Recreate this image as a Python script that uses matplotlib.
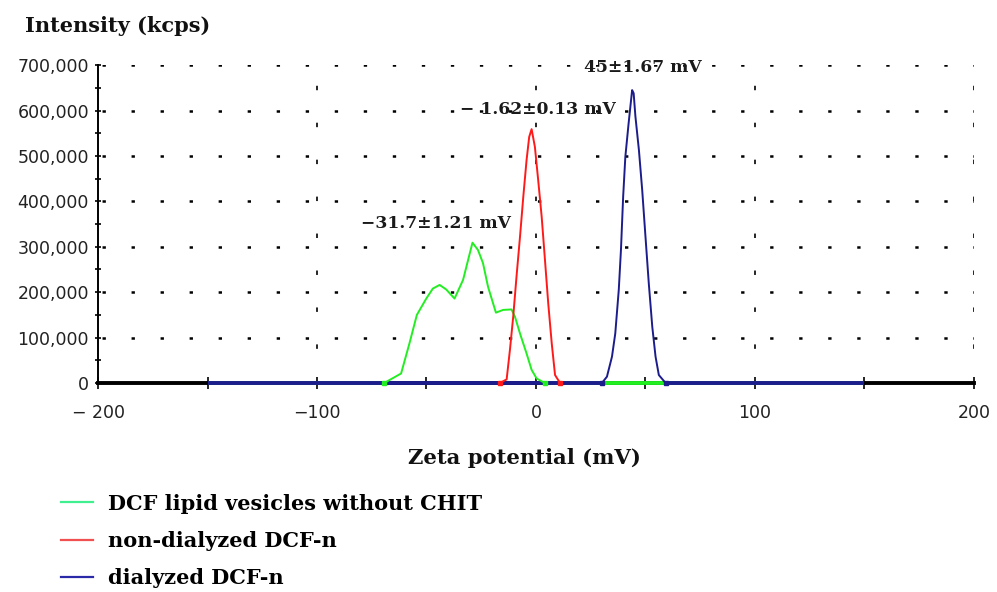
import numpy as np
import matplotlib.pyplot as plt
from matplotlib.lines import Line2D

plt.rcParams['lines.scale_dashes'] = False

# zeta potential (mV) vs intensity (kcps)
green_x = [-150, -69.3, -61.6, -57.8, -54.4, -50.1, -47.1, -44, -41, -37.2, -33.3, -31, -29,
           -26.5, -24.2, -21.9, -18.3, -15, -11.2, -9.6, -7.3, -4.3, -2, 0.3, 4.1, 150]
green_y = [0, 0, 21000, 87000, 150000, 186000, 208000, 216000, 206000, 186000, 227000, 271000,
           309000, 293000, 264000, 212000, 155000, 161000, 162000, 146000, 109000, 65000, 29000,
           10000, 0, 0]

red_x = [-16.5, -13.4, -11.9, -10.4, -8.9, -7.3, -5.8, -4.3, -3.1, -2, -0.5, 1, 2.6, 4.1, 5.6,
         7.2, 8.7, 11]
red_y = [0, 8000, 73000, 146000, 234000, 322000, 410000, 491000, 542000, 559000, 520000, 447000,
         366000, 271000, 175000, 87000, 17600, 0]

blue_x = [-150, 30.1, 32.4, 34.7, 36.2, 37.8, 38.8, 39.8, 40.8, 42.3, 43.9, 44.6, 45.4, 47, 48.5,
          50, 51.5, 53.1, 54.6, 56.1, 59.2, 150]
blue_y = [0, 0, 14000, 58000, 109000, 205000, 293000, 410000, 498000, 572000, 645000, 638000,
          587000, 513000, 425000, 322000, 220000, 124000, 58000, 17600, 0, 0]

labels = ['DCF lipid vesicles without CHIT', 'non-dialyzed DCF-n', 'dialyzed DCF-n']
colors = ['#22ee22', '#ff1a1a', '#1c1c8c']
legend_colors = ['#40f090', '#f05050', '#2a2aa8']

peak_text = ['\u221231.7\u00b11.21 mV', '\u2212 1.62\u00b10.13 mV', '45\u00b11.67 mV']
peak_pos = [(-45.5, 352000), (1.0, 603000), (49.0, 694000)]

xticks = [-200, -150, -100, -50, 0, 50, 100, 150, 200]
xticklabels = ['\u2212 200', '', '\u2212100', '', '0', '', '100', '', '200']
yticks = np.arange(0, 700001, 100000)

serif = ['DejaVu Serif']
sans = ['DejaVu Sans']

fig = plt.figure(figsize=(9.97, 5.92), dpi=100)
ax = fig.add_axes([0.0983, 0.353, 0.8786, 0.537])
ax.set_xlim(-200, 200)
ax.set_ylim(0, 700000)

# grid
for yv in yticks[1:]:
    ax.axhline(yv, color='black', lw=1.8, ls=(18, (2.4, 18.5)), zorder=1)
for xv in [-100, 0, 100, 200]:
    ax.axvline(xv, color='black', lw=1.2, ls=(2, (3.2, 23.4)), zorder=1)

series = [(green_x, green_y), (red_x, red_y), (blue_x, blue_y)]

# zero baselines (thick), then curves
for (xs, ys), c in zip(series, colors):
    for i in range(len(xs) - 1):
        if ys[i] == 0 and ys[i + 1] == 0:
            ax.plot([xs[i], xs[i + 1]], [0, 0], color=c, lw=2.8, solid_capstyle='butt',
                    zorder=3, clip_on=False)
for (xs, ys), c in zip(series, colors):
    xs = np.array(xs)
    ys = np.array(ys)
    nz = np.nonzero(ys)[0]
    a, b = nz[0] - 1, nz[-1] + 1
    ax.plot(xs[a:b + 1], ys[a:b + 1], color=c, lw=1.4, zorder=4, clip_on=False)
    ax.plot([xs[a], xs[b]], [0, 0], ls='none', marker='s', ms=3.5, color=c, zorder=5,
            clip_on=False)

for t, (px, py) in zip(peak_text, peak_pos):
    ax.text(px, py, t, ha='center', va='center', fontsize=12.3, fontweight='bold',
            family=serif, color='#1a1a1a')

for s in ['top', 'right']:
    ax.spines[s].set_visible(False)
ax.spines['left'].set_linewidth(1.4)
ax.spines['bottom'].set_linewidth(2.8)
ax.spines['bottom'].set_zorder(2)

ax.set_yticks(yticks)
ax.set_yticklabels(['0'] + [f'{v:,}' for v in yticks[1:]])
ax.set_yticks(np.arange(50000, 700000, 100000), minor=True)
ax.set_xticks(xticks)
ax.set_xticklabels(xticklabels)
ax.tick_params(axis='y', which='both', direction='inout', length=5, width=1.2, pad=4,
               labelsize=12.5, labelcolor='#222222')
ax.tick_params(axis='x', direction='inout', length=8, width=1.2, pad=11,
               labelsize=12.5, labelcolor='#222222')
for lab in ax.get_xticklabels() + ax.get_yticklabels():
    lab.set_family(sans)

fig.text(0.025, 0.956, 'Intensity (kcps)', fontsize=15, fontweight='bold', family=serif,
         ha='left', va='center', color='#111111')
fig.text(0.526, 0.226, 'Zeta potential (mV)', fontsize=15.2, fontweight='bold', family=serif,
         ha='center', va='center', color='#111111')

handles = [Line2D([], [], color=c, lw=1.6) for c in legend_colors]
fig.legend(handles, labels, loc='upper left', bbox_to_anchor=(0.053, 0.18), frameon=False,
           prop={'family': serif, 'weight': 'bold', 'size': 15}, handlelength=1.55,
           handletextpad=0.7, labelspacing=0.82, borderaxespad=0)

fig.savefig('out.png', dpi=100)
